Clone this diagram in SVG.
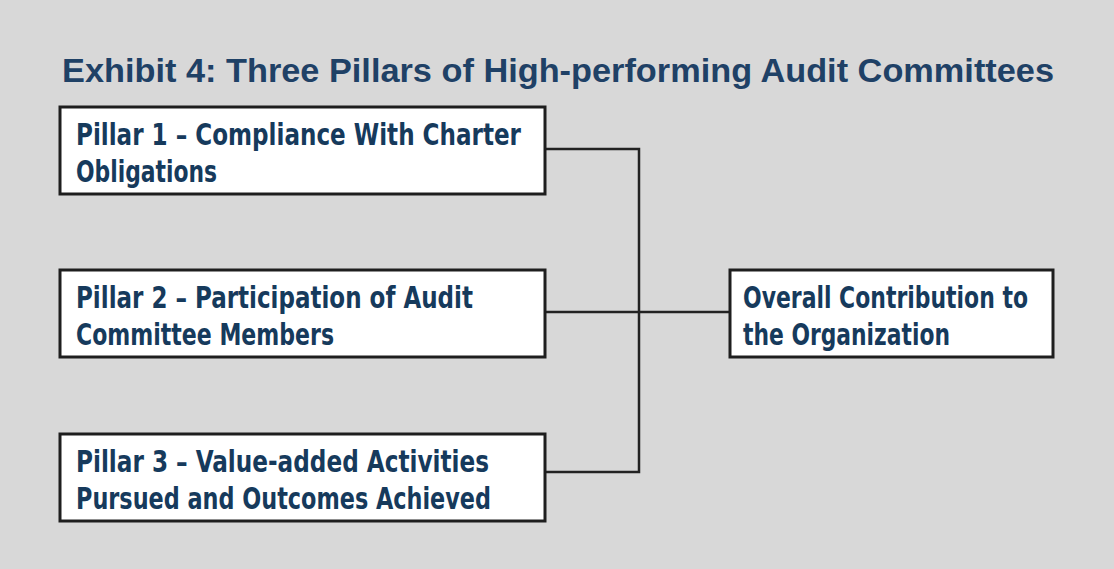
<svg xmlns="http://www.w3.org/2000/svg" width="1114" height="569" viewBox="0 0 1114 569">
<style>
.bg{fill:#d8d8d8}
.box{fill:#ffffff;stroke:#1e1e1e;stroke-width:3}
.lbl{font-family:"Liberation Sans Narrow","DejaVu Sans Condensed","Liberation Sans",sans-serif;font-weight:bold;font-size:30px;fill:#163a5c}
.title{font-family:"Liberation Sans","Open Sans",sans-serif;font-weight:bold;font-size:34px;fill:#1f4166}
.conn{fill:none;stroke:#222222;stroke-width:2.5}
</style>
<rect class="bg" x="0" y="0" width="1114" height="569"/>
<text class="title" x="62" y="82" textLength="992" lengthAdjust="spacingAndGlyphs">Exhibit 4: Three Pillars of High-performing Audit Committees</text>
<g id="connectors">
<path class="conn" d="M545 149 H639 V472 H545"/>
<path class="conn" d="M545 312 H730"/>
</g>
<g id="pillar1">
<rect class="box" x="60" y="107" width="485" height="87"/>
<text class="lbl" x="76" y="145" textLength="445" lengthAdjust="spacingAndGlyphs">Pillar 1 – Compliance With Charter</text>
<text class="lbl" x="76" y="182" textLength="141" lengthAdjust="spacingAndGlyphs">Obligations</text>
</g>
<g id="pillar2">
<rect class="box" x="60" y="270" width="485" height="87"/>
<text class="lbl" x="76" y="308" textLength="397" lengthAdjust="spacingAndGlyphs">Pillar 2 – Participation of Audit</text>
<text class="lbl" x="76" y="345" textLength="258" lengthAdjust="spacingAndGlyphs">Committee Members</text>
</g>
<g id="pillar3">
<rect class="box" x="60" y="434" width="485" height="87"/>
<text class="lbl" x="76" y="472" textLength="413" lengthAdjust="spacingAndGlyphs">Pillar 3 – Value-added Activities</text>
<text class="lbl" x="76" y="509" textLength="415" lengthAdjust="spacingAndGlyphs">Pursued and Outcomes Achieved</text>
</g>
<g id="overall">
<rect class="box" x="730" y="270" width="323" height="87"/>
<text class="lbl" x="743" y="308" textLength="285" lengthAdjust="spacingAndGlyphs">Overall Contribution to</text>
<text class="lbl" x="743" y="345" textLength="207" lengthAdjust="spacingAndGlyphs">the Organization</text>
</g>
</svg>
